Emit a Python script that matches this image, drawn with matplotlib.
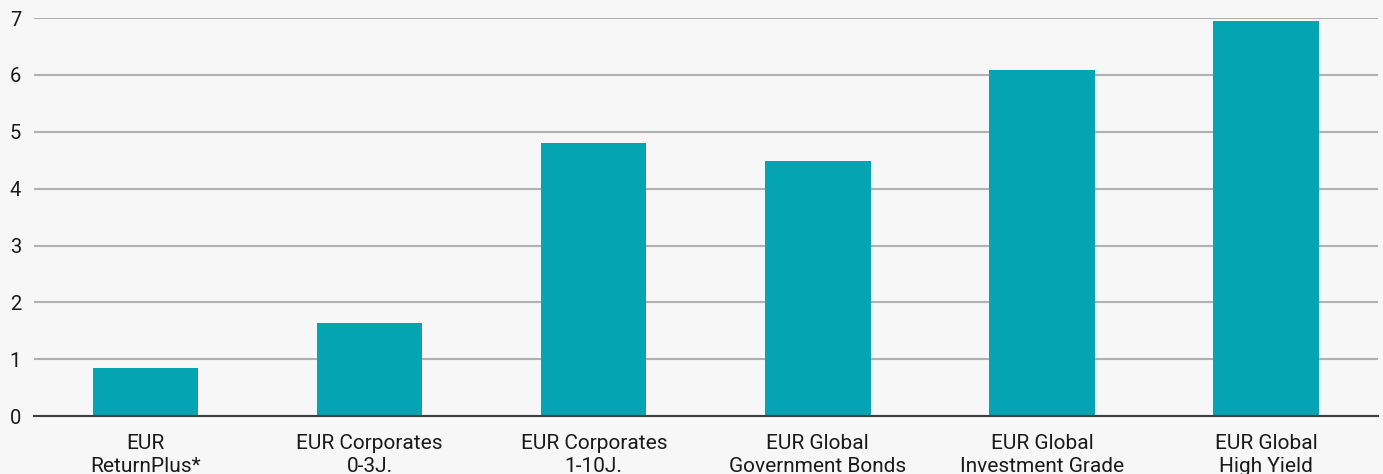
import numpy as np
import matplotlib
matplotlib.use("Agg")
import matplotlib.pyplot as plt

plt.rcParams['font.family'] = ['Roboto', 'DejaVu Sans']

categories = ["EUR\nReturnPlus*", "EUR Corporates\n0-3J.", "EUR Corporates\n1-10J.",
              "EUR Global\nGovernment Bonds", "EUR Global\nInvestment Grade", "EUR Global\nHigh Yield"]
values = [0.84, 1.63, 4.80, 4.48, 6.08, 6.94]
yticks = [0, 1, 2, 3, 4, 5, 6, 7]

BG = '#f7f7f7'
BAR = '#05a4b3'

fig = plt.figure(figsize=(13.83, 4.74), dpi=100, facecolor=BG)
ax = fig.add_axes([0.0243, 0.122, 0.9721, 0.840])
ax.set_facecolor(BG)

x = np.arange(len(categories))
ax.bar(x, values, width=0.47, color=BAR, zorder=3)

ax.set_xlim(-0.5, len(categories) - 0.5)
ax.set_ylim(0, 7)
ax.set_yticks(yticks)
ax.set_yticklabels([str(t) for t in yticks], fontsize=14.5, color='#1a1a1a')
ax.set_xticks(x)
ax.set_xticklabels(categories, fontsize=15, color='#1a1a1a', linespacing=1.3)
ax.tick_params(axis='both', length=0)
ax.tick_params(axis='x', pad=12.5)
ax.tick_params(axis='y', pad=9)

ax.grid(axis='y', color='#b0b0b0', linewidth=1.5, zorder=0)
for s in ['top', 'right', 'left']:
    ax.spines[s].set_visible(False)
ax.spines['bottom'].set_color('#404040')
ax.spines['bottom'].set_linewidth(1.5)
ax.spines['bottom'].set_zorder(4)

fig.savefig('out.png', dpi=100, facecolor=BG)
